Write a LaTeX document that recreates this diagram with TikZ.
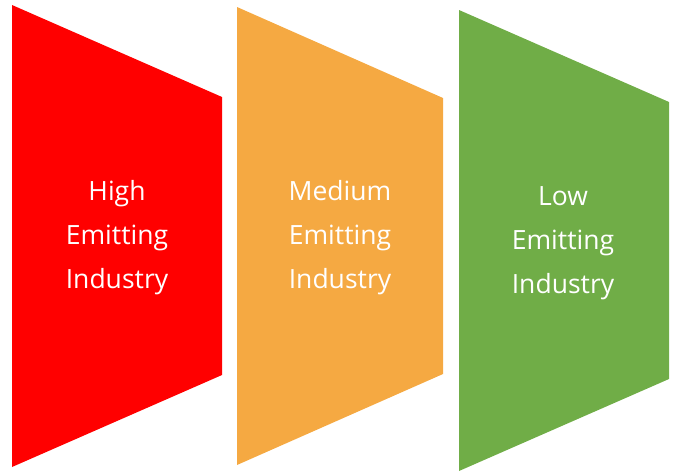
\documentclass[tikz,border=0pt]{standalone}
\usepackage{fontspec}
\setmainfont{Open Sans}
\definecolor{cred}{HTML}{FF0000}
\definecolor{corange}{HTML}{F5A942}
\definecolor{cgreen}{HTML}{70AD47}
\begin{document}
\begin{tikzpicture}[x=1pt,y=-1pt,
  lbl/.style={text=white,align=center,font=\fontsize{26.5}{44}\selectfont,inner sep=0pt}]
\useasboundingbox (0,0) rectangle (675,472);
\fill[cred] (12,5) -- (222,97) -- (222,375) -- (12,467) -- cycle;
\fill[corange] (237,7) -- (443,98) -- (443,374) -- (237,465) -- cycle;
\fill[cgreen] (459,10) -- (669,102) -- (669,379) -- (459,471) -- cycle;
\node[lbl] (high) at (117,238) {High\\Emitting\\Industry};
\node[lbl] (med) at (340,238) {Medium\\Emitting\\Industry};
\node[lbl] (low) at (563,243) {Low\\Emitting\\Industry};
\end{tikzpicture}
\end{document}
